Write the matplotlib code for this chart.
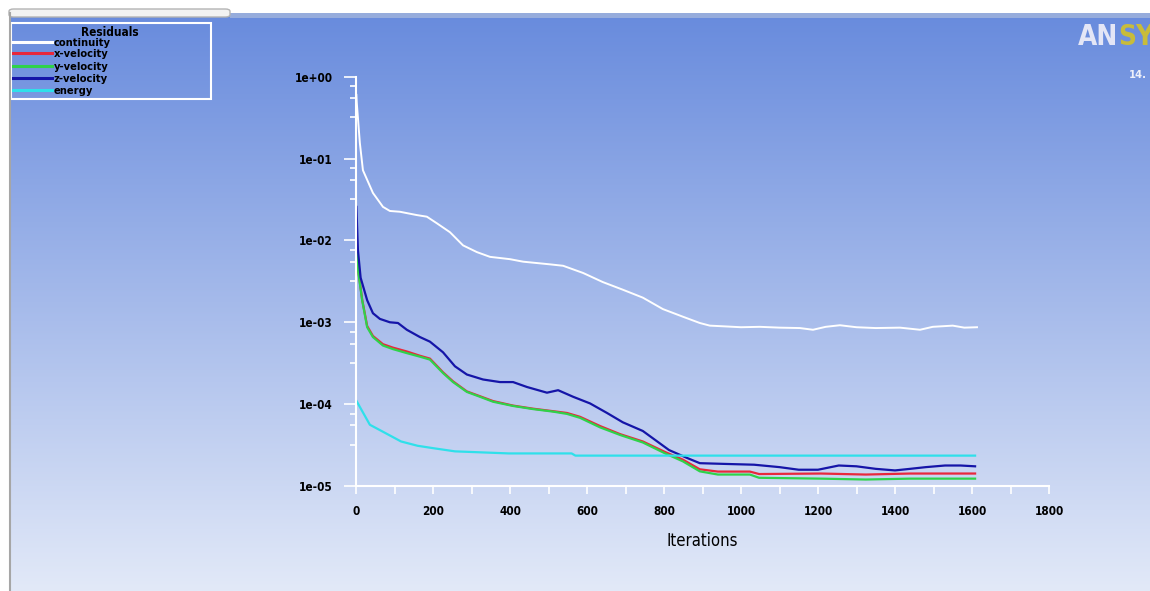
import numpy as np
import matplotlib
matplotlib.use('Agg')
import matplotlib.pyplot as plt
from matplotlib.lines import Line2D
from matplotlib.patches import Rectangle, FancyBboxPatch
from matplotlib.ticker import LogLocator, MultipleLocator, FuncFormatter, NullFormatter

plt.rcParams['font.family'] = ['DejaVu Sans']
plt.rcParams['font.stretch'] = 'condensed'
plt.rcParams['font.weight'] = 'bold'

# ---------------------------------------------------------------------------
# Residual histories
# ---------------------------------------------------------------------------
series_names = ['continuity', 'x-velocity', 'y-velocity', 'z-velocity', 'energy']
series_colors = ['#ffffff', '#e8283c', '#2fd24a', '#1515a8', '#2fe0ea']

cont_it = [1, 2, 10, 18, 44, 70, 88, 114, 158, 184, 210, 244, 278, 314, 348,
           400, 434, 504, 538, 590, 641, 693, 745, 797, 849, 893, 919, 960,
           1000, 1049, 1100, 1153, 1187, 1220, 1257, 1300, 1350, 1413, 1465,
           1498, 1550, 1580, 1613]
cont_res = [0.60, 0.48, 0.155, 0.072, 0.038, 0.0257, 0.0229, 0.0224, 0.0204,
            0.0195, 0.0162, 0.0126, 0.0087, 0.0072, 0.0063, 0.0059, 0.0055,
            0.0051, 0.0049, 0.0040, 0.0031, 0.0025, 0.0020, 0.00145, 0.00117,
            0.00098, 0.00091, 0.00089, 0.00087, 0.00088, 0.00086, 0.00085,
            0.00081, 0.00088, 0.00092, 0.00087, 0.00085, 0.00086, 0.00081,
            0.00088, 0.00091, 0.00086, 0.00087]

vel_it = [1, 5, 16, 29, 44, 70, 96, 132, 166, 192, 226, 252, 288, 322, 356,
          408, 460, 512, 548, 582, 634, 686, 745, 803, 849, 893, 940, 1023,
          1047, 1208, 1324, 1439, 1608]
xvel_res = [0.0125, 0.0046, 0.0019, 0.0009, 0.00068, 0.00054, 0.00049,
            0.00044, 0.00039, 0.00036, 0.000245, 0.00019, 0.000143, 0.000125,
            0.000109, 9.6e-5, 8.8e-5, 8.2e-5, 7.8e-5, 7.0e-5, 5.4e-5, 4.3e-5,
            3.5e-5, 2.6e-5, 2.1e-5, 1.6e-5, 1.5e-5, 1.5e-5, 1.4e-5, 1.42e-5,
            1.38e-5, 1.42e-5, 1.42e-5]
yvel_res = [0.0123, 0.0044, 0.00186, 0.00087, 0.00066, 0.00052, 0.00047,
            0.00042, 0.00038, 0.00035, 0.00024, 0.000186, 0.000141, 0.000123,
            0.000107, 9.5e-5, 8.7e-5, 8.1e-5, 7.6e-5, 6.8e-5, 5.2e-5, 4.2e-5,
            3.4e-5, 2.5e-5, 2.0e-5, 1.51e-5, 1.38e-5, 1.38e-5, 1.26e-5,
            1.23e-5, 1.2e-5, 1.23e-5, 1.23e-5]

zvel_it = [1, 5, 12, 29, 44, 62, 88, 109, 132, 166, 192, 226, 257, 288, 330,
           374, 408, 444, 496, 525, 564, 608, 652, 693, 745, 813, 860, 893,
           960, 1034, 1100, 1150, 1200, 1254, 1300, 1350, 1400, 1439, 1480,
           1530, 1570, 1608]
zvel_res = [0.0257, 0.0076, 0.0035, 0.00186, 0.00129, 0.0011, 0.0010,
            0.00098, 0.00081, 0.00066, 0.00058, 0.00043, 0.00029, 0.00023,
            0.0002, 0.000186, 0.000186, 0.000162, 0.000138, 0.000148,
            0.000123, 0.000102, 7.8e-5, 6.0e-5, 4.7e-5, 2.75e-5, 2.2e-5,
            1.9e-5, 1.86e-5, 1.82e-5, 1.7e-5, 1.58e-5, 1.58e-5, 1.78e-5,
            1.74e-5, 1.62e-5, 1.55e-5, 1.62e-5, 1.7e-5, 1.78e-5, 1.78e-5,
            1.74e-5]

energy_it = [1, 36, 70, 117, 160, 200, 257, 397, 560, 570, 1608]
energy_res = [1.1e-4, 5.6e-5, 4.6e-5, 3.5e-5, 3.1e-5, 2.9e-5, 2.65e-5,
              2.5e-5, 2.5e-5, 2.35e-5, 2.35e-5]

series_it = [cont_it, vel_it, vel_it, zvel_it, energy_it]
series_res = [cont_res, xvel_res, yvel_res, zvel_res, energy_res]

W, H = 1150, 591


def fx(x):
    return x / W


def fy(y):
    return 1 - y / H


fig = plt.figure(figsize=(W / 100, H / 100), dpi=100)

# --- window background: vertical blue gradient -----------------------------
bg = fig.add_axes([0, 0, 1, 1], zorder=-10)
top = np.array([104, 139, 221]) / 255
bot = np.array([226, 233, 248]) / 255
t = np.linspace(0, 1, 400)[:, None]
grad = top + (bot - top) * t
bg.imshow(grad[:, None, :], aspect='auto', extent=[0, 1, fy(H), fy(13)])
bg.set_xlim(0, 1)
bg.set_ylim(0, 1)
bg.set_axis_off()

# white frame bits of the window
bg.add_patch(Rectangle((0, fy(13)), 1, 13 / H, color='white', lw=0))
bg.add_patch(Rectangle((fx(230), fy(18)), 1, 5 / H, color='#96acdc', lw=0))
bg.add_patch(Rectangle((0, 0), fx(9), 1, color='white', lw=0))
bg.add_line(Line2D([fx(9.5), fx(9.5)], [0, fy(13)], color='#a6a6a6', lw=1.5))
bg.add_patch(FancyBboxPatch((fx(9), fy(17)), fx(221), 8 / H,
                            boxstyle='round,pad=0,rounding_size=0.004',
                            fc='#f2f2f2', ec='#b4b4b4', lw=1))

# --- residual plot -----------------------------------------------------------
ax = fig.add_axes([fx(356), fy(486), 693 / W, (486 - 76.7) / H])
ax.set_facecolor('none')
for name, c, it, res in zip(series_names, series_colors, series_it, series_res):
    ax.plot(it, res, color=c, lw=1.6 if name != 'continuity' else 1.4,
            label=name)

ax.set_yscale('log')
ax.set_xlim(0, 1800)
ax.set_ylim(1e-5, 1)
ax.xaxis.set_major_locator(MultipleLocator(200))
ax.xaxis.set_minor_locator(MultipleLocator(100))
ax.yaxis.set_major_locator(LogLocator(base=10, numticks=10))
ax.yaxis.set_minor_locator(LogLocator(base=10, subs=(3.2, 5.5, 7.6), numticks=10))
ax.yaxis.set_minor_formatter(NullFormatter())
ax.yaxis.set_major_formatter(FuncFormatter(lambda v, p: '{:.0e}'.format(v)))

ax.tick_params(axis='both', which='both', colors='white', labelcolor='black',
               direction='out', width=1.2, labelsize=8.5, pad=8)
ax.tick_params(axis='x', which='both', length=6)
ax.tick_params(axis='y', which='major', length=9)
ax.tick_params(axis='y', which='minor', length=4.3)

for s in ['top', 'right']:
    ax.spines[s].set_visible(False)
for s in ['left', 'bottom']:
    ax.spines[s].set_color('white')
    ax.spines[s].set_linewidth(1.5)

ax.set_xlabel('Iterations', fontsize=12, fontweight='normal', labelpad=10)

# --- legend box (drawn like the Fluent one) ---------------------------------
bg.add_patch(Rectangle((fx(11), fy(99)), 200 / W, 76 / H, fill=False,
                       ec='white', lw=1.5))
bg.text(fx(110), fy(32), 'Residuals', ha='center', va='center', fontsize=8.5)
leg_y = [42, 53, 66, 78, 90]
for name, c, y in zip(series_names, series_colors, leg_y):
    bg.add_line(Line2D([fx(13), fx(52)], [fy(y), fy(y)], color=c, lw=2.2))
    bg.text(fx(54), fy(y + 1), name, ha='left', va='center', fontsize=8)

# --- ANSYS logo (cut by the window edge, as in the screenshot) ---------------
t_an = bg.text(fx(1078), fy(51), 'AN', ha='left', va='bottom', fontsize=20,
               color='#e4e6f6')
bg.annotate('SYS', xy=(1, 0), xycoords=t_an, ha='left', va='bottom',
            fontsize=20, color='#c8bc3a', annotation_clip=False)
bg.text(fx(1129), fy(78), '14.', ha='left', va='baseline', fontsize=8,
        color='#eef0fa')

fig.savefig('out.png', dpi=100)
